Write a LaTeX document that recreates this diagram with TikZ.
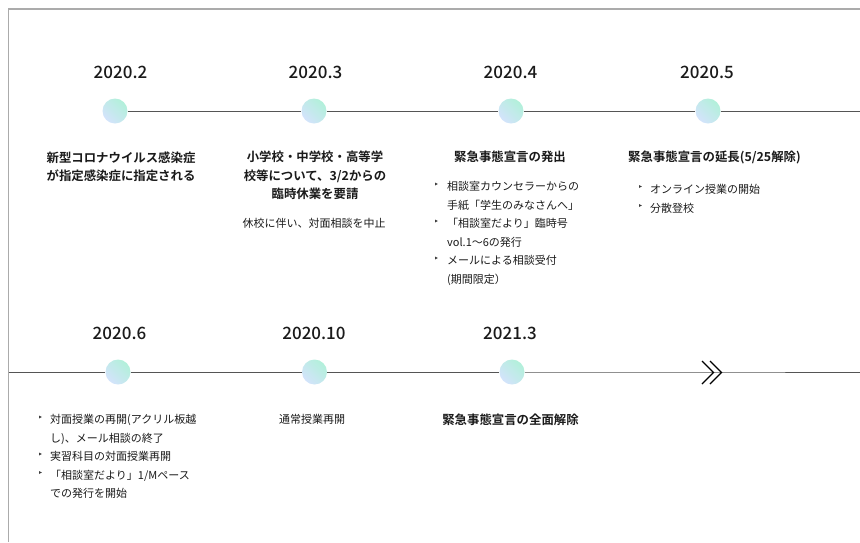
\documentclass[tikz,border=0pt]{standalone}
\usepackage{fontspec}
\setmainfont{Noto Sans CJK JP}[BoldFont={Noto Sans CJK JP Bold}]
\newfontfamily\datefont{Noto Sans CJK JP Medium}
\definecolor{framegray}{HTML}{ABABAB}
\definecolor{tlgray}{HTML}{555555}
\definecolor{dotmint}{HTML}{B2F0DA}
\definecolor{dotblue}{HTML}{D3E3FB}
\definecolor{txt}{HTML}{1A1A1A}
\begin{document}
\begin{tikzpicture}[x=1pt,y=-1pt,
  datelbl/.style={inner sep=0, text height=15pt, text depth=2pt, text=txt, font=\datefont\fontsize{17}{20}\selectfont},
  headlbl/.style={inner sep=0, text height=10.9pt, text depth=1.5pt, text=txt, font=\bfseries\fontsize{12.4}{16}\selectfont},
  bodylbl/.style={inner sep=0, text height=9.7pt, text depth=1.3pt, text=txt, font=\fontsize{11}{14}\selectfont},
  itemlbl/.style={bodylbl, anchor=west},
  dotnode/.style={circle, minimum size=25pt, inner sep=0, top color=dotmint, bottom color=dotblue, shading angle=-45},
  tline/.style={draw=tlgray, line width=1pt},
  bulletmark/.style={fill=txt!85}
]
\useasboundingbox (0,0) rectangle (860,542);
% frame
\draw[framegray, line width=1.6pt] (8.5,542) -- (8.5,9) -- (860,9);

% ---------- top row ----------
\node[dotnode] (c1) at (115,111) {};
\node[dotnode] (c2) at (314,111) {};
\node[dotnode] (c3) at (511,111) {};
\node[dotnode] (c4) at (708,111) {};
\coordinate (tend) at (860,111);
\draw[tline] (c1.east) -- (c2.west) (c2.east) -- (c3.west) (c3.east) -- (c4.west) (c4.east) -- (tend);

\node[datelbl] (d1) at (120.5,72) {2020.2};
\node[datelbl] (d2) at (315.5,72) {2020.3};
\node[datelbl] (d3) at (510.5,72) {2020.4};
\node[datelbl] (d4) at (707,72) {2020.5};

% 2020.2
\node[headlbl] (h1a) at (121,157.5) {新型コロナウイルス感染症};
\node[headlbl] (h1b) at (121,175.5) {が指定感染症に指定される};
% 2020.3
\node[headlbl] (h2a) at (315,157) {小学校・中学校・高等学};
\node[headlbl] (h2b) at (315,175.5) {校等について、3/2からの};
\node[headlbl] (h2c) at (315,194) {臨時休業を要請};
\node[bodylbl] (b2) at (314,223) {休校に伴い、対面相談を中止};
% 2020.4
\node[headlbl] (h3) at (510,157) {緊急事態宣言の発出};
\node[itemlbl] (i3a) at (447,186.5) {相談室カウンセラーからの};
\node[itemlbl] (i3b) at (447,205) {手紙「学生のみなさんへ」};
\node[itemlbl] (i3c) at (447,223.5) {「相談室だより」臨時号};
\node[itemlbl] (i3d) at (447,242) {vol.1〜6の発行};
\node[itemlbl] (i3e) at (447,260.5) {メールによる相談受付};
\node[itemlbl] (i3f) at (447,279) {(期間限定）};
\foreach \yy in {186.5,223.5,260.5}
  \fill[bulletmark] (435,\yy-4) -- (437.8,\yy-2.5) -- (435,\yy-1) -- cycle;
% 2020.5
\node[headlbl] (h4) at (714.5,157) {緊急事態宣言の延長(5/25解除)};
\node[itemlbl] (i4a) at (650,189) {オンライン授業の開始};
\node[itemlbl] (i4b) at (650,208) {分散登校};
\foreach \yy in {189,208}
  \fill[bulletmark] (639,\yy-4) -- (641.8,\yy-2.5) -- (639,\yy-1) -- cycle;

% ---------- bottom row ----------
\coordinate (bstart) at (8.5,372);
\node[dotnode] (c5) at (118,372) {};
\node[dotnode] (c6) at (314.5,372) {};
\node[dotnode] (c7) at (512,372) {};
\coordinate (chev) at (712,372);
\coordinate (bend) at (860,372);
\draw[tline] (bstart) -- (c5.west) (c5.east) -- (c6.west) (c6.east) -- (c7.west) (c7.east) -- (chev) -- (bend);
\draw[line width=1.2pt, black, line join=miter] (702,361) -- (713.5,372.5) -- (702,384);
\draw[line width=1.2pt, black, line join=miter] (710,361) -- (721.5,372.5) -- (710,384);

\node[datelbl] (d5) at (119.5,333) {2020.6};
\node[datelbl] (d6) at (314,333) {2020.10};
\node[datelbl] (d7) at (510,333) {2021.3};

% 2020.6
\node[itemlbl] (i5a) at (50,419.5) {対面授業の再開(アクリル板越};
\node[itemlbl] (i5b) at (50,438) {し)、メール相談の終了};
\node[itemlbl] (i5c) at (50,456.5) {実習科目の対面授業再開};
\node[itemlbl] (i5d) at (50,475) {「相談室だより」1/Mペース};
\node[itemlbl] (i5e) at (50,493.5) {での発行を開始};
\foreach \yy in {419.5,456.5,475}
  \fill[bulletmark] (39,\yy-4) -- (41.8,\yy-2.5) -- (39,\yy-1) -- cycle;
% 2020.10
\node[bodylbl] (b6) at (312,419.5) {通常授業再開};
% 2021.3
\node[headlbl] (h7) at (510.5,419.5) {緊急事態宣言の全面解除};
\end{tikzpicture}
\end{document}
